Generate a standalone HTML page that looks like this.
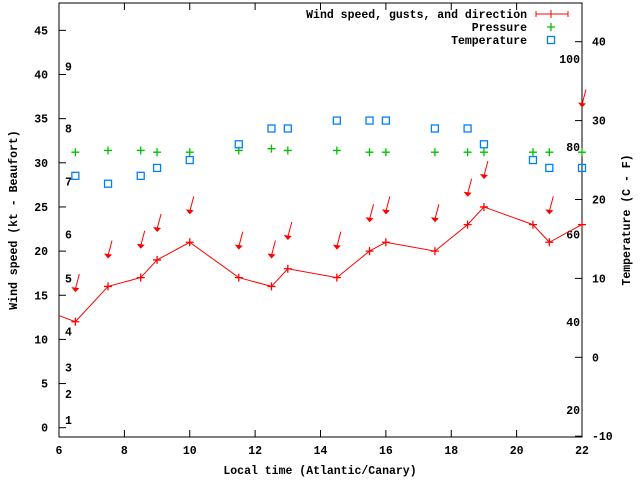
<!DOCTYPE html>
<html><head><meta charset="utf-8">
<style>
html,body{margin:0;padding:0;background:#fff;}
svg text{font-family:"Liberation Mono","DejaVu Sans Mono",monospace;font-weight:bold;font-size:11.5px;fill:#000;}
</style></head>
<body>
<svg id="chart" width="640" height="480" viewBox="0 0 640 480" xmlns="http://www.w3.org/2000/svg">
<g id="grid"></g>
<g id="marks"></g>
</svg>
<script>
const times=[6.5,7.5,8.5,9,10,11.5,12.5,13,14.5,15.5,16,17.5,18.5,19,20.5,21,22];
const windSpeed=[12,16,17,19,21,17,16,18,17,20,21,20,23,25,23,21,23];
const gusts=[15.7,19.5,20.6,22.5,24.5,20.5,19.5,21.6,20.5,23.6,24.5,23.6,26.5,28.5,null,24.5,36.6];
const pressure=[31.2,31.4,31.4,31.2,31.2,31.4,31.6,31.4,31.4,31.2,31.2,31.2,31.2,31.2,31.2,31.2,31.2];
const tempC=[23,22,23,24,25,27,29,29,30,30,30,29,29,27,25,24,24];
const xTicks=[6,8,10,12,14,16,18,20,22];
const yTicks=[0,5,10,15,20,25,30,35,40,45];
const cTicks=[-10,0,10,20,30,40];
const fTicks=[20,40,60,80,100];
const beaufort=[[1,0.9],[2,3.8],[3,6.8],[4,10.9],[5,16.9],[6,21.9],[7,27.9],[8,33.9],[9,40.9]];

const L=59,R=582,T=3,B=437;
const X=t=>L+(t-6)*(R-L)/16;
const Y=v=>427.7-v*8.83;
const YC=c=>357.3-c*7.89;
const NS='http://www.w3.org/2000/svg';
const grid=document.getElementById('grid'),marks=document.getElementById('marks');
function mk(tag,attrs,parent,txt){const e=document.createElementNS(NS,tag);for(const k in attrs)e.setAttribute(k,attrs[k]);if(txt!==undefined)e.textContent=txt;parent.appendChild(e);return e;}

let e=mk('rect',{x:L,y:T,width:R-L,height:B-T,fill:'none',stroke:'#000','stroke-width':1},grid);

xTicks.forEach(t=>{
  mk('line',{x1:X(t),x2:X(t),y1:B,y2:B-7,stroke:'#000'},grid);
  mk('line',{x1:X(t),x2:X(t),y1:T,y2:T+7,stroke:'#000'},grid);
  let s=mk('text',{x:X(t),y:B+17,'text-anchor':'middle'},grid,String(t));
  
});
yTicks.forEach(v=>{
  mk('line',{x1:L,x2:L+7,y1:Y(v),y2:Y(v),stroke:'#000'},grid);
  let s=mk('text',{x:L-11,y:Y(v)+4,'text-anchor':'end'},grid,String(v));
  
});
cTicks.forEach(c=>{
  mk('line',{x1:R,x2:R-7,y1:YC(c),y2:YC(c),stroke:'#000'},grid);
  let s=mk('text',{x:R+10,y:YC(c)+4,'text-anchor':'start'},grid,String(c));
  
});
fTicks.forEach(f=>{
  let s=mk('text',{x:R-2,y:YC((f-32)*5/9)+4,'text-anchor':'end'},grid,String(f));
  
});
beaufort.forEach(([b,v])=>{
  let s=mk('text',{x:65,y:Y(v)+4},grid,String(b));
  
});
e=mk('text',{x:320,y:474,'text-anchor':'middle'},grid,'Local time (Atlantic/Canary)');

e=mk('text',{x:0,y:0,'text-anchor':'middle',transform:'translate(17,220) rotate(-90)'},grid,'Wind speed (kt - Beaufort)');

e=mk('text',{x:0,y:0,'text-anchor':'middle',transform:'translate(630,220) rotate(-90)'},grid,'Temperature (C - F)');


// wind line (starts from left edge)
let pts=[[L,Y(12.7)]].concat(times.map((t,i)=>[X(t),Y(windSpeed[i])]));
e=mk('polyline',{points:pts.map(p=>p.join(',')).join(' '),fill:'none',stroke:'#f00','stroke-width':1},marks);

function plus(x,y,c,n){const g=mk('path',{d:`M${x-4},${y}h8M${x},${y-4}v8`,stroke:c,'stroke-width':1.3,fill:'none'},marks);}
times.forEach((t,i)=>plus(X(t),Y(windSpeed[i]),'#f00','wind-speed-point'));
times.forEach((t,i)=>{
  if(gusts[i]==null)return;
  const x=X(t),y=Y(gusts[i]);
  const g=mk('g',{},marks);
  
  mk('line',{x1:x+4,y1:y-15,x2:x,y2:y,stroke:'#f00','stroke-width':1},g);
  mk('polygon',{points:`${x-4},${y-2} ${x+4},${y-1} ${x},${y+3}`,fill:'#f00'},g);
});
times.forEach((t,i)=>plus(X(t),Y(pressure[i]),'#00c000','pressure-point'));
times.forEach((t,i)=>{
  const r=mk('rect',{x:X(t)-3.5,y:YC(tempC[i])-3.5,width:7,height:7,fill:'none',stroke:'#0080ff','stroke-width':1.3},marks);
  
});
// legend
const leg=mk('g',{},marks);
e=mk('text',{x:527,y:18,'text-anchor':'end'},leg,'Wind speed, gusts, and direction');
mk('path',{d:'M536,14h32M536,11v6M568,11v6M551,10v8',stroke:'#f00','stroke-width':1,fill:'none'},leg);
e=mk('text',{x:527,y:31,'text-anchor':'end'},leg,'Pressure');
mk('path',{d:'M547,27h8M551,23v8',stroke:'#00c000','stroke-width':1.3,fill:'none'},leg);
e=mk('text',{x:527,y:44,'text-anchor':'end'},leg,'Temperature');
mk('rect',{x:547.5,y:36.5,width:7,height:7,fill:'none',stroke:'#0080ff','stroke-width':1.3},leg);
</script>
</body></html>
